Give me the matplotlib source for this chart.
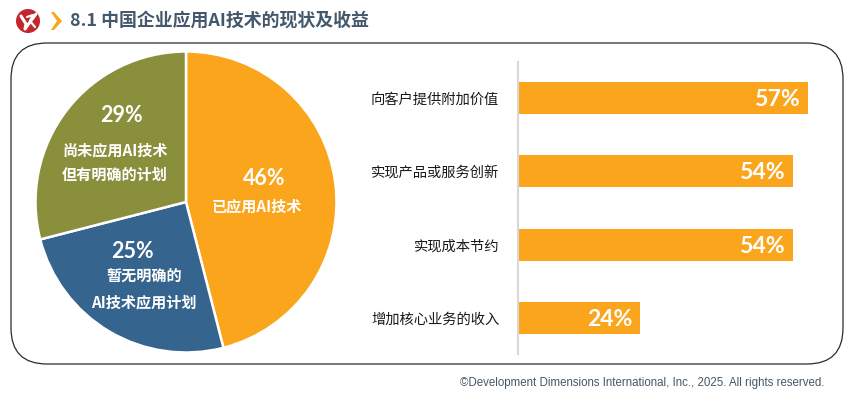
import numpy as np
import matplotlib
matplotlib.use("Agg")
import matplotlib.pyplot as plt
from matplotlib.patches import FancyBboxPatch, Circle, Polygon

plt.rcParams["font.family"] = ["Noto Sans CJK SC", "DejaVu Sans"]

W, H = 848, 393

pie_values = [46, 25, 29]
pie_colors = ["#FBA51C", "#35648E", "#8A8F3C"]
pie_pcts = ["46%", "25%", "29%"]
pie_labels = [["已应用AI技术"], ["暂无明确的", "AI技术应用计划"], ["尚未应用AI技术", "但有明确的计划"]]

bar_labels = ["向客户提供附加价值", "实现产品或服务创新", "实现成本节约", "增加核心业务的收入"]
bar_values = [57, 54, 54, 24]
bar_pcts = ["57%", "54%", "54%", "24%"]

title = "8.1 中国企业应用AI技术的现状及收益"
footer = "©Development Dimensions International, Inc., 2025. All rights reserved."

PCT_FONT = ["Lato", "DejaVu Sans"]


def axes_px(fig, x0, y0, x1, y1):
    # pixel box measured from the top left of the picture
    return fig.add_axes([x0 / W, 1 - y1 / H, (x1 - x0) / W, (y1 - y0) / H])


fig = plt.figure(figsize=(W / 100, H / 100), dpi=100, facecolor="white")

bg = fig.add_axes([0, 0, 1, 1])
bg.set_xlim(0, W)
bg.set_ylim(H, 0)
bg.axis("off")

# rounded frame
bg.add_patch(FancyBboxPatch((11 + 36, 43 + 36), 832 - 72, 321 - 72,
                            boxstyle="round,pad=36,rounding_size=36",
                            fc="white", ec="#2b2b2b", lw=0.9))

# logo and chevron
bg.add_patch(Circle((28, 21), 12, fc="#C1272D", ec="none"))
bg.plot([21, 26, 25, 30, 36], [16, 24, 29, 22, 14], color="white", lw=2.2, solid_capstyle="round")
bg.plot([27, 33, 30, 35], [17, 15, 21, 27], color="white", lw=1.6, solid_capstyle="round")
bg.add_patch(Polygon([[51, 12], [54, 12], [62, 21], [54, 30], [51, 30], [57, 21]],
                     fc="#FBA51C", ec="none"))

bg.text(70, 20.5, title, fontsize=12.9, fontweight="bold", color="#44586C", va="center", ha="left")
bg.text(825, 383, footer, fontsize=8.3, color="#44586C", va="center", ha="right",
        family=["Liberation Sans", "DejaVu Sans"])

# pie
r = 150.5
ax = axes_px(fig, 186 - r, 202 - r, 186 + r, 202 + r)
ax.set_facecolor("none")
ax.pie(pie_values, colors=pie_colors, startangle=90, counterclock=False, radius=1,
       wedgeprops=dict(edgecolor="white", linewidth=1.8))
ax.set_xlim(-1, 1)
ax.set_ylim(-1, 1)

# bars
bx = axes_px(fig, 518, 62, 838, 354)
bx.set_facecolor("none")
y = np.arange(len(bar_values))
bx.barh(y, bar_values, height=0.437, color="#FBA51C", edgecolor="none")
bx.set_xlim(0, 320 / 5.09)
bx.set_ylim(3.49, -0.491)
bx.set_yticks(y)
bx.set_yticklabels(bar_labels, fontsize=10.3, color="#1a1a1a")
bx.tick_params(axis="y", length=0, pad=13.5)
bx.set_xticks([])
for s in ["top", "right", "bottom"]:
    bx.spines[s].set_visible(False)
bx.spines["left"].set_color("#D9D9D9")
bx.spines["left"].set_linewidth(1.5)

for i, (v, t) in enumerate(zip(bar_values, bar_pcts)):
    bx.text(v - 1.5, i + 0.02, t, fontsize=16.6, fontweight="bold", color="white",
            ha="right", va="center", family=PCT_FONT)

# pie texts go on a layer above the pie
top = fig.add_axes([0, 0, 1, 1], facecolor="none")
top.set_xlim(0, W)
top.set_ylim(H, 0)
top.axis("off")

pct_pos = [(264, 178.5), (132, 251), (121, 115)]
lab_pos = [[(257, 206)], [(144, 276), (144, 302)], [(115, 150), (115, 175)]]
for pct, labs, pp, lp in zip(pie_pcts, pie_labels, pct_pos, lab_pos):
    top.text(pp[0], pp[1], pct, fontsize=15.5, fontweight="bold", color="white",
             ha="center", va="center", family=PCT_FONT)
    for s, p in zip(labs, lp):
        top.text(p[0], p[1], s, fontsize=10.9, fontweight="bold", color="white",
                 ha="center", va="center")

fig.savefig("out.png", dpi=100)
